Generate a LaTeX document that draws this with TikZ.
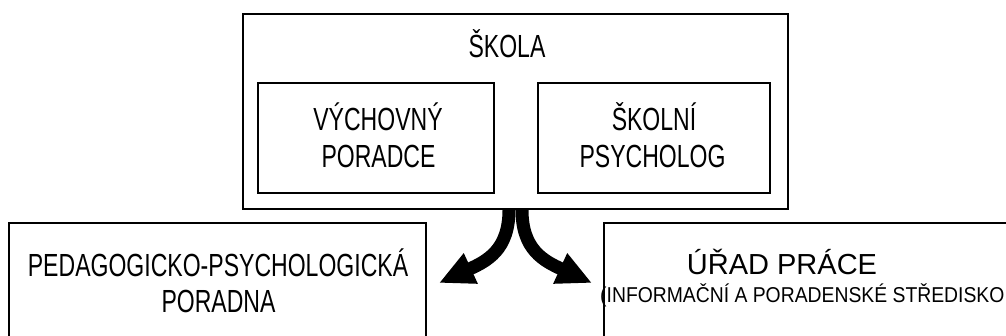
\documentclass[tikz,border=0pt]{standalone}
\usepackage{fontspec}
\setmainfont{Liberation Sans}
\newfontfamily\narrowfont{Liberation Sans}[FakeStretch=0.72]
\newfontfamily\semifont{Liberation Sans}[FakeStretch=0.9]
\usetikzlibrary{arrows.meta}

\begin{document}
\begin{tikzpicture}[x=1pt, y=-1pt,
        box/.style={draw, line width=1.8pt, inner sep=0pt},
        txt/.style={inner sep=0pt, anchor=base, font=\narrowfont\fontsize{32}{38}\selectfont},
        branch/.style={line width=13pt, -{Triangle[length=35pt, width=31pt]}}]
    \useasboundingbox (0, 0) rectangle (1006, 336);
    \clip (0, 0) rectangle (1006, 336);
    % school and its two counsellors
    \node [box, minimum width=545pt, minimum height=195pt] (skola) at (515.5, 111.5) {};
    \node [box, minimum width=236pt, minimum height=110pt] (vychovny) at (376, 138) {};
    \node [box, minimum width=232pt, minimum height=110pt] (psycholog) at (654, 138) {};
    \node [txt] (skola-t) at (507, 58) {ŠKOLA};
    \node [txt] (vychovny-a) at (378, 130.5) {VÝCHOVNÝ};
    \node [txt] (vychovny-b) at (378.5, 168) {PORADCE};
    \node [txt] (psycholog-a) at (654, 131) {ŠKOLNÍ};
    \node [txt] (psycholog-b) at (652.5, 168) {PSYCHOLOG};
    % outside services
    \node [box, minimum width=417pt, minimum height=137pt] (ppp) at (217.5, 291.5) {};
    \node [box, minimum width=436pt, minimum height=137pt] (urad) at (822, 291.5) {};
    \node [txt] (ppp-a) at (218, 277) {PEDAGOGICKO-PSYCHOLOGICKÁ};
    \node [txt] (ppp-b) at (218.5, 313) {PORADNA};
    \node [txt, font=\fontsize{29}{35}\selectfont] (urad-a) at (782, 275) {ÚŘAD PRÁCE};
    \node [txt, anchor=base west, font=\semifont\fontsize{21.5}{26}\selectfont] (urad-b) at (600, 303)
        {(INFORMAČNÍ A PORADENSKÉ STŘEDISKO};
    % the forked arrow
    \coordinate (tipL) at (439, 283);
    \coordinate (tipR) at (592, 283);
    \draw [branch] ([xshift=-6.5pt]skola.south) .. controls +(0, 40) and +(48, -22) .. (tipL);
    \draw [branch] ([xshift=6.5pt]skola.south) .. controls +(0, 40) and +(-48, -22) .. (tipR);
\end{tikzpicture}
\end{document}
